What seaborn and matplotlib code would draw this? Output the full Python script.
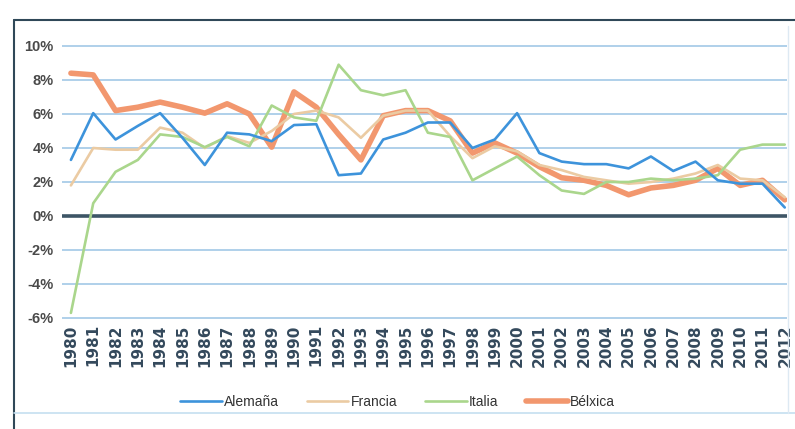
import matplotlib
matplotlib.use("Agg")
import matplotlib.pyplot as plt
from matplotlib.lines import Line2D
import seaborn as sns
import pandas as pd
import numpy as np

years = list(range(1980, 2013))
alemana = [3.3, 6.05, 4.5, 5.3, 6.05, 4.6, 3.0, 4.9, 4.8, 4.4, 5.35, 5.4, 2.4, 2.5,
           4.5, 4.9, 5.5, 5.5, 4.0, 4.5, 6.05, 3.7, 3.2, 3.05, 3.05, 2.8, 3.5, 2.65,
           3.2, 2.1, 1.9, 1.9, 0.5]
francia = [1.8, 4.0, 3.9, 3.9, 5.2, 4.9, 4.0, 4.7, 4.3, 5.0, 6.0, 6.2, 5.8, 4.6,
           5.9, 6.2, 6.2, 4.7, 3.4, 4.1, 3.8, 3.0, 2.7, 2.3, 2.1, 1.9, 2.0, 2.2,
           2.5, 3.0, 2.2, 2.1, 1.1]
italia = [-5.7, 0.75, 2.6, 3.3, 4.8, 4.65, 4.05, 4.65, 4.1, 6.5, 5.8, 5.6, 8.9, 7.4,
          7.1, 7.4, 4.9, 4.65, 2.1, 2.8, 3.5, 2.4, 1.5, 1.3, 2.0, 2.0, 2.2, 2.1,
          2.2, 2.4, 3.9, 4.2, 4.2]
belxica = [8.4, 8.3, 6.2, 6.4, 6.7, 6.4, 6.05, 6.6, 6.0, 4.05, 7.3, 6.4, 4.8, 3.3,
           5.9, 6.2, 6.2, 5.6, 3.7, 4.3, 3.7, 2.9, 2.25, 2.1, 1.8, 1.25, 1.65, 1.8,
           2.1, 2.8, 1.8, 2.1, 0.95]
series_names = ["Alemaña", "Francia", "Italia", "Bélxica"]
y_ticks = [-6, -4, -2, 0, 2, 4, 6, 8, 10]
y_tick_labels = [f"{v}%" for v in y_ticks]

df = pd.DataFrame({"year": years, "Alemaña": alemana, "Francia": francia,
                   "Italia": italia, "Bélxica": belxica})

sns.set_style("white")
plt.rcParams["font.family"] = ["Liberation Sans", "DejaVu Sans"]

fig = plt.figure(figsize=(7.95, 4.29), dpi=100)
ax = fig.add_axes([62 / 795, 1 - 321.4 / 429, 725 / 795, (321.4 - 42.6) / 429])

styles = {
    "Alemaña": dict(color="#3d93db", lw=1.9, zorder=5),
    "Francia": dict(color="#ebcba3", lw=1.9, zorder=3),
    "Italia": dict(color="#aad68c", lw=1.9, zorder=4),
    "Bélxica": dict(color="#f2976e", lw=4.0, zorder=2),
}
for name in series_names:
    st = styles[name]
    sns.lineplot(data=df, x="year", y=name, ax=ax, color=st["color"],
                 linewidth=st["lw"], zorder=st["zorder"], label=name)

ax.set_xlim(1979.6, 2012.1)
ax.set_ylim(-6.2, 10.2)
ax.set_yticks(y_ticks)
ax.set_yticklabels(y_tick_labels)
ax.set_xticks(years)
ax.set_xticklabels([str(y) for y in years], rotation=90, fontsize=11,
                   fontweight="bold", color="#34495c", family="DejaVu Sans")
for lab in ax.get_yticklabels():
    lab.set_fontsize(10.5)
    lab.set_fontweight("bold")
    lab.set_color("#4a4a4a")
ax.tick_params(axis="both", length=0, pad=2)
ax.tick_params(axis="y", pad=6)
ax.set_xlabel("")
ax.set_ylabel("")
for s in ax.spines.values():
    s.set_visible(False)
ax.grid(axis="y", color="#a9cde8", lw=1.3, zorder=0)
ax.grid(axis="x", visible=False)
ax.axhline(0, color="#3d5566", lw=2.6, zorder=1)

handles, labels = ax.get_legend_handles_labels()
ax.get_legend().remove()
fig.legend(handles, labels, loc="center", bbox_to_anchor=(0.5, 1 - 402 / 429),
           ncol=4, frameon=False, handlelength=3.0, handletextpad=0.15,
           columnspacing=2.0, prop={"family": ["Liberation Sans", "DejaVu Sans"], "size": 10})
for t in fig.legends[0].get_texts():
    t.set_color("#333333")

frame_c = "#2f4858"
fig.add_artist(Line2D([14 / 795, 14 / 795], [0, 1 - 20 / 429], transform=fig.transFigure,
                      color=frame_c, lw=1.5))
fig.add_artist(Line2D([14 / 795, 1], [1 - 20 / 429, 1 - 20 / 429], transform=fig.transFigure,
                      color=frame_c, lw=1.5))
fig.add_artist(Line2D([14 / 795, 1], [1 - 413 / 429, 1 - 413 / 429], transform=fig.transFigure,
                      color="#c5dff0", lw=1.2))
fig.add_artist(Line2D([788 / 795, 788 / 795], [1 - 413 / 429, 1 - 26 / 429], transform=fig.transFigure,
                      color="#dde9f3", lw=1.0))

fig.savefig("out.png", dpi=100)
